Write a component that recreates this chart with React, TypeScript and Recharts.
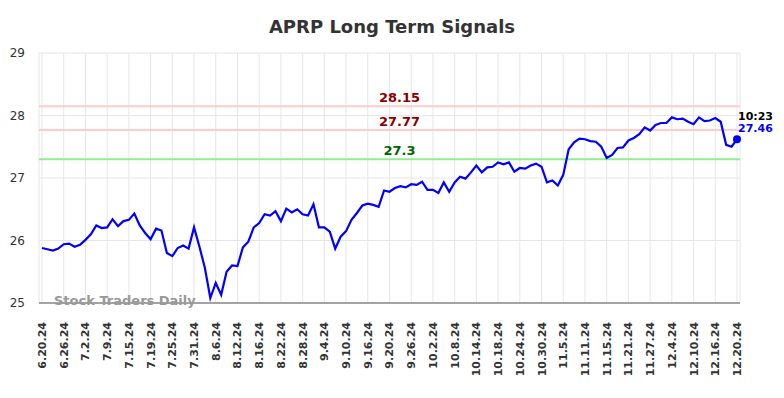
import React from 'react';
import { LineChart, Line, XAxis, YAxis, CartesianGrid, ReferenceLine } from 'recharts';

const tickLabels = [
  '6.20.24', '6.26.24', '7.2.24', '7.9.24', '7.15.24', '7.19.24', '7.25.24', '7.31.24',
  '8.6.24', '8.12.24', '8.16.24', '8.22.24', '8.28.24', '9.4.24', '9.10.24', '9.16.24',
  '9.20.24', '9.26.24', '10.2.24', '10.8.24', '10.14.24', '10.18.24', '10.24.24', '10.30.24',
  '11.5.24', '11.11.24', '11.15.24', '11.21.24', '11.27.24', '12.4.24', '12.10.24', '12.16.24',
  '12.20.24',
];

const prices = [
  25.88, 25.86, 25.84, 25.87, 25.94, 25.95, 25.90, 25.93, 26.01, 26.10,
  26.24, 26.20, 26.21, 26.34, 26.23, 26.31, 26.33, 26.43, 26.24, 26.12,
  26.02, 26.19, 26.16, 25.80, 25.75, 25.88, 25.92, 25.87, 26.21, 25.90,
  25.56, 25.08, 25.32, 25.13, 25.50, 25.60, 25.59, 25.89, 25.98, 26.21,
  26.28, 26.42, 26.40, 26.47, 26.31, 26.51, 26.45, 26.50, 26.42, 26.40,
  26.58, 26.21, 26.21, 26.14, 25.87, 26.06, 26.15, 26.33, 26.44, 26.56,
  26.59, 26.57, 26.54, 26.80, 26.78, 26.84, 26.87, 26.85, 26.90, 26.89,
  26.94, 26.81, 26.81, 26.76, 26.93, 26.78, 26.93, 27.02, 26.99, 27.09,
  27.20, 27.09, 27.17, 27.18, 27.25, 27.22, 27.25, 27.10, 27.16, 27.15,
  27.20, 27.23, 27.18, 26.93, 26.96, 26.88, 27.05, 27.46, 27.57, 27.63,
  27.62, 27.59, 27.58, 27.50, 27.32, 27.37, 27.48, 27.49, 27.60, 27.64,
  27.70, 27.81, 27.76, 27.85, 27.88, 27.88, 27.97, 27.94, 27.95, 27.90,
  27.86, 27.97, 27.91, 27.92, 27.96, 27.90, 27.53, 27.50, 27.62,
];

const yTicks = [25, 26, 27, 28, 29];
const resistance = [28.15, 27.77];
const support = [27.3];
const lastTime = '10:23';
const lastPrice = '27.46';

const STEP = 4; // one tick label every 4 sessions
const data = prices.map((p, i) => ({ i, price: p }));
const xTicks = tickLabels.map((_, k) => k * STEP);

const FONT = '"DejaVu Sans", Verdana, sans-serif';

const DateTick = (props: any) => {
  const { x, y, payload } = props;
  const label = tickLabels[Math.round(payload.value / STEP)];
  return (
    <g transform={`translate(${x},${y})`}>
      <text transform="rotate(-90)" x={-11} dy="0.36em" textAnchor="end"
        fill="#333" fontSize={11} fontWeight="bold" fontFamily={FONT}>
        {label}
      </text>
    </g>
  );
};

const levelLabel = (text: string, color: string) => (props: any) => {
  const vb = props.viewBox;
  return (
    <text x={vb.x + vb.width / 2 + 10} y={vb.y - 4} textAnchor="middle"
      fill={color} fontSize={13} fontWeight="bold" fontFamily={FONT}>
      {text}
    </text>
  );
};

const LastDot = (props: any) => {
  const { cx, cy, index } = props;
  if (index !== prices.length - 1) return <g key={index} />;
  return (
    <g key={index}>
      <circle cx={cx} cy={cy} r={4} fill="#0000ff" />
      <text x={cx + 1} y={cy - 19.5} fill="#000" fontSize={11} fontWeight="bold" fontFamily={FONT}>{lastTime}</text>
      <text x={cx + 1} y={cy - 7} fill="#0000ff" fontSize={11} fontWeight="bold" fontFamily={FONT}>{lastPrice}</text>
    </g>
  );
};

export default function App() {
  return (
    <div style={{ position: 'absolute', left: 0, top: 0, width: 784, height: 398, background: '#fff', fontFamily: FONT }}>
      <div style={{ position: 'absolute', left: 0, top: 16, width: 784, textAlign: 'center', fontSize: 18, fontWeight: 'bold', color: '#333' }}>
        APRP Long Term Signals
      </div>
      <LineChart width={784} height={398} data={data} margin={{ top: 53, right: 44, left: 0, bottom: 0 }}>
        <CartesianGrid stroke="#e6e6e6" strokeWidth={1} verticalPoints={undefined} />
        <XAxis dataKey="i" type="number" domain={[0, prices.length - 1]} ticks={xTicks} interval={0}
          height={95} padding={{ left: 3, right: 3 }} tick={<DateTick />} tickLine={false}
          axisLine={{ stroke: '#555', strokeWidth: 1 }} />
        <YAxis domain={[25, 29]} ticks={yTicks} width={39} axisLine={false} tickLine={false} tickMargin={8}
          tick={{ fill: '#333', fontSize: 12, fontFamily: FONT }} />
        {resistance.map(v => (
          <ReferenceLine key={v} y={v} stroke="#ffcccc" strokeWidth={2} label={levelLabel(String(v), '#8b0000')} />
        ))}
        {support.map(v => (
          <ReferenceLine key={v} y={v} stroke="#90ee90" strokeWidth={2} label={levelLabel(String(v), '#006400')} />
        ))}
        <Line type="linear" dataKey="price" stroke="#0000ff" strokeWidth={2.2} dot={LastDot} activeDot={false}
          isAnimationActive={false} />
      </LineChart>
      <div style={{ position: 'absolute', left: 54, top: 293, fontSize: 13, fontWeight: 'bold', color: '#999', pointerEvents: 'none' }}>
        Stock Traders Daily
      </div>
    </div>
  );
}
